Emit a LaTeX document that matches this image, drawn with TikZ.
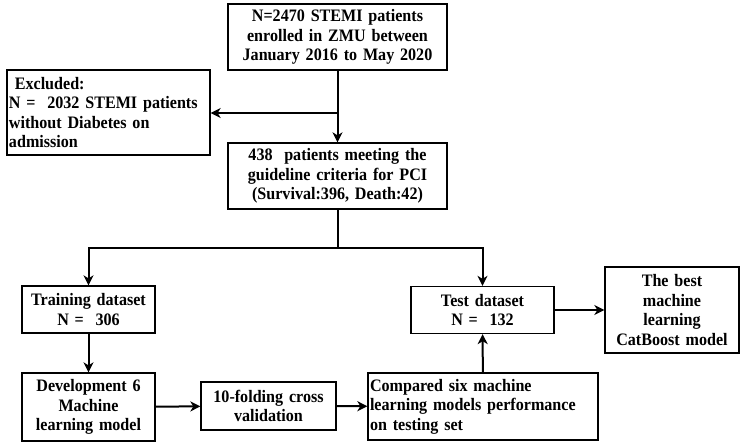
\documentclass[tikz,border=0pt]{standalone}
\usepackage{fontspec}
\setmainfont[FakeStretch=0.92]{Liberation Serif}
\usetikzlibrary{arrows.meta}
\begin{document}
\begin{tikzpicture}[x=1pt,y=-1pt,>={Stealth[length=10pt,width=10pt,inset=3pt]},
    main/.style={draw,line width=1.3pt,inner sep=1.5pt,font=\fontsize{17.5}{19.5}\selectfont\bfseries},
    arr/.style={line width=2pt}]
                \useasboundingbox (0,0) rectangle (744,446);
                \node[main,minimum width=219pt,minimum height=66pt,text width=215pt,align=center](0) at (337.5,37){N=2470 STEMI patients\\enrolled in ZMU between\\January 2016 to May 2020};
                \node[main,minimum width=203pt,minimum height=85pt,text width=199pt,align=left](1) at (108.5,112.5){\ Excluded:\\N =\ \ 2032 STEMI patients\\without Diabetes on\\admission};
                \node[main,minimum width=219pt,minimum height=66pt,text width=215pt,align=center](2) at (337.5,176){438\ \ patients meeting the\\guideline criteria for PCI\\(Survival:396, Death:42)};
                \node[main,minimum width=133pt,minimum height=47pt,text width=129pt,align=center](3) at (88.5,309.5){Training dataset\\N =\ \ 306};
                \node[main,minimum width=143pt,minimum height=47pt,text width=139pt,align=center](4) at (482.5,310){Test dataset\\N =\ \ 132};
                \node[main,minimum width=133pt,minimum height=68pt,text width=129pt,align=center](5) at (88.5,407){Development 6\\Machine\\learning model};
                \node[main,minimum width=135pt,minimum height=48pt,text width=131pt,align=center](6) at (268.5,406){10-folding cross\\validation};
                \node[main,minimum width=230pt,minimum height=67pt,text width=226pt,align=left](7) at (483,406.5){Compared six machine\\learning models performance\\on testing set};
                \node[main,minimum width=134pt,minimum height=86pt,text width=130pt,align=center](8) at (672,310){The best\\machine\\learning\\CatBoost model};
                \coordinate(b) at (337.5,113);
                \coordinate(s) at (337.5,248);
                \draw[arr,->](0) -- (2);
                \draw[arr,->](b) -- (1.east |- b);
                \draw[arr](2) -- (s);
                \draw[arr,->](s) -| (3);
                \draw[arr,->](s) -| (4);
                \draw[arr,->](3) -- (5);
                \draw[arr,->](5) -- (6);
                \draw[arr,->](6) -- (7);
                \draw[arr,->](7) -- (4);
                \draw[arr,->](4) -- (8);
            \end{tikzpicture}
\end{document}
